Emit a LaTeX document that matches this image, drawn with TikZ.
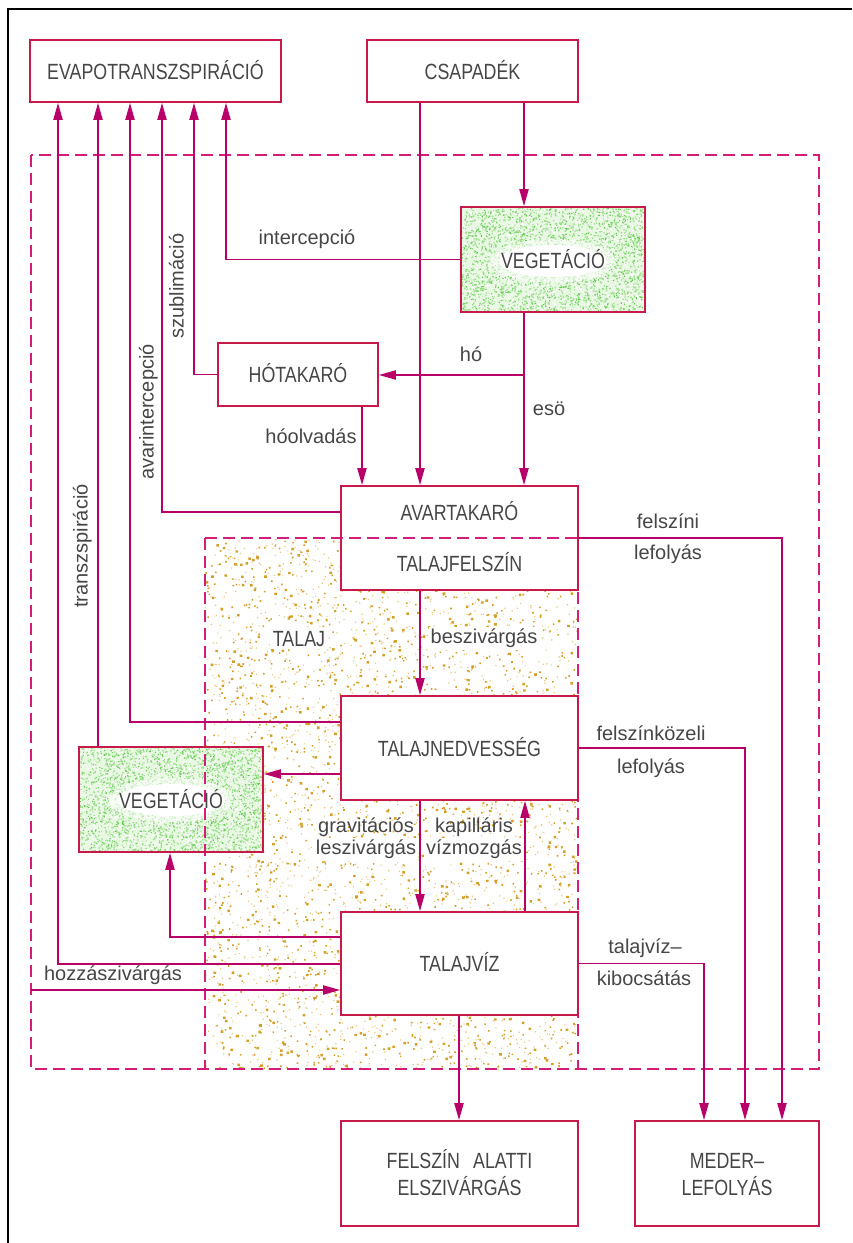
\documentclass[tikz,border=0pt]{standalone}
\usepackage{fontspec}
\setmainfont{Liberation Sans}
\newfontfamily\capfont{Liberation Sans}[FakeStretch=0.81]
\usetikzlibrary{arrows.meta,calc}
\definecolor{boxc}{RGB}{200,25,75}
\definecolor{flowc}{RGB}{185,0,105}
\definecolor{dashc}{RGB}{210,30,120}
\definecolor{txtc}{RGB}{70,70,70}
\definecolor{soilc}{RGB}{212,160,40}
\definecolor{soill}{RGB}{232,200,130}
\definecolor{vegd}{RGB}{100,200,85}
\definecolor{vegm}{RGB}{160,225,145}
\definecolor{vegl}{RGB}{232,248,226}
\newcommand\vegpatch[6]{%
  \fill[vegl] (#1,#2) rectangle ++(#3,#4);
  \fill[vegm] \foreach \i in {1,...,1700}{ ({#1+#3*rnd},{#2+#4*rnd}) rectangle ++(1.4,1.4) };
  \fill[vegd] \foreach \i in {1,...,1100}{ ({#1+#3*rnd},{#2+#4*rnd}) rectangle ++(1.1,1.1) };
  \fill[white] \foreach \i in {1,...,900}{ ({#1+#3*rnd},{#2+#4*rnd}) rectangle ++(1.3,1.3) };
  \fill[white,opacity=0.55] (#5,#6) ellipse [x radius=62, y radius=22];
  \fill[white] (#5,#6) ellipse [x radius=54, y radius=16];
}
\begin{document}
\begin{tikzpicture}[x=1pt,y=-1pt,
  box/.style={draw=boxc, line width=1.6pt, fill=white, rectangle, inner sep=0pt},
  vegbox/.style={draw=boxc, line width=1.6pt, rectangle, inner sep=0pt, text=txtc, font=\capfont\fontsize{22}{24}\selectfont},
  flow/.style={draw=flowc, line width=1.9pt},
  arr/.style={flow, -{Triangle[length=17pt,width=9pt]}},
  dline/.style={draw=dashc, line width=1.9pt, dash pattern=on 12pt off 6pt},
  captext/.style={text=txtc, font=\capfont\fontsize{22}{24}\selectfont, text height=16pt, text depth=0pt, inner sep=1pt},
  lab/.style={text=txtc, font=\fontsize{20}{22}\selectfont, text height=15pt, text depth=4pt, inner sep=1pt},
  wlab/.style={lab, fill=white, inner sep=2pt},
]
\useasboundingbox (0,0) rectangle (852,1243);
\fill[white] (0,0) rectangle (852,1243);
% outer frame
\draw[line width=2.5pt, black] (8,1243) -- (8,9) -- (852,9);

% soil texture
\pgfmathsetseed{7}
\begin{scope}
  \clip (205,538) rectangle (578,1069);
  \fill[soill] \foreach \i in {1,...,2200}{ ({205+373*rnd},{538+531*rnd}) rectangle ++(1.2,1.2) };
  \fill[soilc] \foreach \i in {1,...,1500}{ ({205+373*rnd},{538+531*rnd}) rectangle ++(1.6,1.6) };
  \fill[soilc] \foreach \i in {1,...,500}{ ({205+373*rnd},{538+531*rnd}) rectangle ++(2.6,2.4) };
\end{scope}

% vegetation textures
\vegpatch{461}{207}{184}{105}{553}{261}
\vegpatch{79}{747}{184}{105}{171}{800}

% dashed boundaries
\draw[dline] (31,155) rectangle (819,1069);
\draw[dline] (205,538) -- (205,1069);
\draw[dline] (578,538) -- (578,1069);

% boxes
\node[box, minimum width=251pt, minimum height=62pt] (evap) at (155.5,71) {};
\node[captext] (tevap) at (evap.center) {EVAPOTRANSZSPIRÁCIÓ};
\node[box, minimum width=211pt, minimum height=62pt] (csap) at (472.5,71) {};
\node[captext] (tcsap) at (csap.center) {CSAPADÉK};
\node[vegbox, minimum width=184pt, minimum height=105pt] (veg1) at (553,259.5) {VEGETÁCIÓ};
\node[box, minimum width=160pt, minimum height=63pt] (hota) at (298,374.5) {};
\node[captext] (thota) at (hota.center) {HÓTAKARÓ};
\node[box, minimum width=237pt, minimum height=104pt] (avar) at (459.5,538) {};
\node[captext] (tavar) at (459.5,512) {AVARTAKARÓ};
\node[captext] (tfelsz) at (459.5,563) {TALAJFELSZÍN};
\node[box, minimum width=237pt, minimum height=104pt] (tned) at (459.5,748) {};
\node[captext] (ttned) at (tned.center) {TALAJNEDVESSÉG};
\node[box, minimum width=237pt, minimum height=103pt] (tviz) at (459.5,963.5) {};
\node[captext] (ttviz) at (tviz.center) {TALAJVÍZ};
\node[vegbox, minimum width=184pt, minimum height=105pt] (veg2) at (171,799.5) {VEGETÁCIÓ};
\node[box, minimum width=237pt, minimum height=105pt] (fela) at (459.5,1173.5) {};
\node[captext] (tfela1) at (459.5,1160) {FELSZÍN\hspace{0.6em}ALATTI};
\node[captext] (tfela2) at (459.5,1187) {ELSZIVÁRGÁS};
\node[box, minimum width=184pt, minimum height=105pt] (meder) at (727,1173.5) {};
\node[captext] (tmed1) at (727,1160) {MEDER–};
\node[captext] (tmed2) at (727,1187) {LEFOLYÁS};

% soil top dashed line (through the litter box)
\draw[dline] (205,538) -- (578,538);

% helper coordinates
\coordinate (x58) at (58,0);
\coordinate (x98) at (98,0);
\coordinate (x130) at (130,0);
\coordinate (x162) at (162,0);
\coordinate (x170) at (170,0);
\coordinate (x194) at (194,0);
\coordinate (x226) at (226,0);
\coordinate (x362) at (362,0);
\coordinate (x420) at (420,0);
\coordinate (x459) at (459,0);
\coordinate (x524) at (524,0);
\coordinate (x525) at (525,0);
\coordinate (x704) at (704,0);
\coordinate (x745) at (745,0);
\coordinate (x782) at (782,0);
\coordinate (y512) at (0,512);
\coordinate (y722) at (0,722);
\coordinate (y774) at (0,774);
\coordinate (y937) at (0,937);
\coordinate (y964) at (0,964);
\coordinate (jho) at (524,375);
\coordinate (hz) at (31,990);

% flows
\draw[arr] (csap.south -| x420) -- (avar.north -| x420);
\draw[arr] (csap.south -| x524) -- (veg1.north -| x524);
\draw[arr] (veg1.south -| x524) -- (avar.north -| x524);
\draw[arr] (jho) -- (hota.east |- jho);
\draw[arr] (hota.south -| x362) -- (avar.north -| x362);
\draw[arr] (veg1.west) -| (evap.south -| x226);
\draw[arr] (hota.west) -| (evap.south -| x194);
\draw[arr] (avar.west |- y512) -| (evap.south -| x162);
\draw[arr] (tned.west |- y722) -| (evap.south -| x130);
\draw[arr] (veg2.north -| x98) -- (evap.south -| x98);
\draw[arr] (tviz.west |- y964) -| (evap.south -| x58);
\draw[arr] (tviz.west |- y937) -| (veg2.south -| x170);
\draw[arr] (tned.west |- y774) -- (veg2.east |- y774);
\draw[arr] (hz) -- (tviz.west |- hz);
\draw[arr] (avar.south -| x420) -- (tned.north -| x420);
\draw[arr] (tned.south -| x420) -- (tviz.north -| x420);
\draw[arr] (tviz.north -| x525) -- (tned.south -| x525);
\draw[arr] (tviz.south -| x459) -- (fela.north -| x459);
\draw[arr] (avar.east) -| (meder.north -| x782);
\draw[arr] (tned.east) -| (meder.north -| x745);
\draw[arr] (tviz.east) -| (meder.north -| x704);

% labels
\node[lab] (lint) at (307,239) {intercepció};
\node[lab, rotate=90] (lszub) at (178,286) {szublimáció};
\node[lab, rotate=90] (lavar) at (148,412) {avarintercepció};
\node[lab, rotate=90] (ltransz) at (82,546) {transzspiráció};
\node[lab] (lho) at (471,356) {hó};
\node[lab] (leso) at (549,410) {esö};
\node[lab] (lhool) at (311,438) {hóolvadás};
\node[lab] (lfel1) at (668,523) {felszíni};
\node[lab] (lfel2) at (668,554) {lefolyás};
\node[captext, fill=white, inner sep=3pt] (ltalaj) at (299,638) {TALAJ};
\node[wlab] (lbesz) at (484,638) {beszivárgás};
\node[wlab, align=center] (lgrav) at (366,849) {gravitációs\\leszivárgás};
\node[wlab, align=center] (lkap) at (474,849) {kapilláris\\vízmozgás};
\node[lab] (lfk1) at (651,735) {felszínközeli};
\node[lab] (lfk2) at (651,768) {lefolyás};
\node[lab] (ltv1) at (645,948) {talajvíz–};
\node[lab] (ltv2) at (644,980) {kibocsátás};
\node[lab] (lhozz) at (113,975) {hozzászivárgás};
\end{tikzpicture}
\end{document}
